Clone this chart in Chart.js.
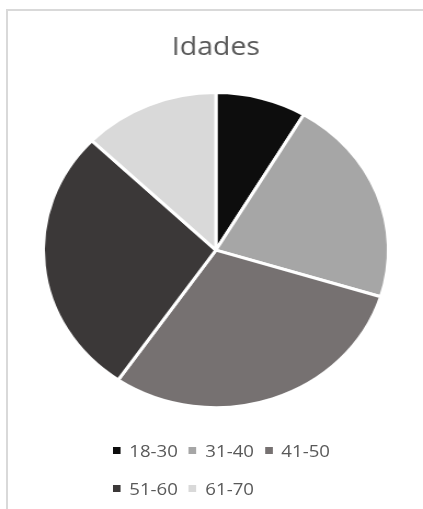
<!DOCTYPE html>
<html>
<head>
<meta charset="utf-8">
<script src="https://cdn.jsdelivr.net/npm/chart.js@4/dist/chart.umd.min.js"></script>
<style>
  html, body { margin: 0; padding: 0; background: #ffffff; }
  body { width: 423px; height: 509px; overflow: hidden; position: relative; }
  #frame {
    position: absolute; left: 6px; top: 9px; width: 600px; height: 700px;
    border-top: 2px solid #d9d9d9; border-left: 2px solid #d9d9d9;
  }
  #wrap {
    position: absolute; left: 0; top: 0; width: 386px; height: 509px;
    transform: scaleX(1.0959); transform-origin: 0 0;
  }
  #pie { position: absolute; left: 0; top: 0; }
  #legend {
    position: absolute; left: 103px; top: 432px; width: 222px;
    display: flex; flex-wrap: wrap;
    font-family: "Open Sans", sans-serif; font-size: 17px; color: #595959;
  }
  .item { display: inline-flex; align-items: center; height: 37.5px; margin-right: 10px; }
  .box { width: 7px; height: 7px; margin-right: 8px; }
</style>
</head>
<body>
<div id="frame"></div>
<div id="wrap">
  <canvas id="pie" width="386" height="509"></canvas>
  <div id="legend"></div>
</div>
<script>
// Age groups and number of people in each
const categories = ['18-30', '31-40', '41-50', '51-60', '61-70'];
const counts = [4, 10, 14, 13, 6];
const sliceColors = ['#0d0d0d', '#a6a6a6', '#767171', '#3b3838', '#d9d9d9'];
const chartTitle = 'Idades';

const chart = new Chart(document.getElementById('pie'), {
  type: 'pie',
  data: {
    labels: categories,
    datasets: [{
      data: counts,
      backgroundColor: sliceColors,
      borderColor: '#ffffff',
      borderWidth: 3,
      radius: 157.5
    }]
  },
  options: {
    responsive: false,
    animation: false,
    devicePixelRatio: 1,
    layout: { padding: { top: 16, bottom: 82, left: 8, right: 0 } },
    plugins: {
      legend: { display: false },
      tooltip: { enabled: false },
      title: {
        display: true,
        text: chartTitle,
        color: '#595959',
        font: { family: '"Open Sans", sans-serif', size: 26, weight: 'normal' },
        padding: { top: 16, bottom: 10 }
      }
    }
  }
});

// Legend rows below the pie, built from the chart's own labels and colours
const legend = document.getElementById('legend');
chart.data.labels.forEach((label, i) => {
  const item = document.createElement('div');
  item.className = 'item';
  const box = document.createElement('span');
  box.className = 'box';
  box.style.background = chart.data.datasets[0].backgroundColor[i];
  const text = document.createElement('span');
  text.textContent = label;
  item.appendChild(box);
  item.appendChild(text);
  legend.appendChild(item);
});
</script>
</body>
</html>
